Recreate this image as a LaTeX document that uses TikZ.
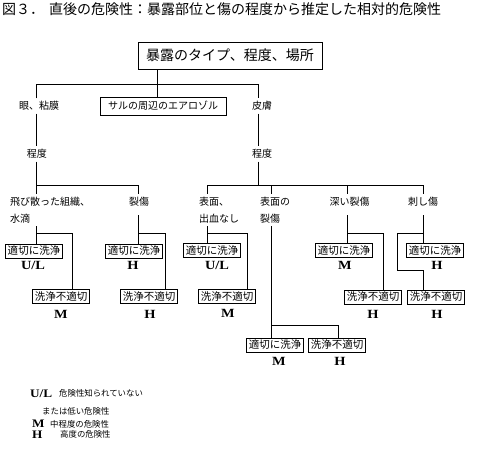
\documentclass[tikz,border=0pt]{standalone}
\usepackage{fontspec}
\newfontfamily\jp{Noto Sans CJK JP}
\newfontfamily\bser[FakeStretch=1.15]{Liberation Serif}
\begin{document}
\begin{tikzpicture}[x=1pt,y=-1pt,
  ln/.style={line width=0.9pt},
  ttl/.style={font=\jp\fontsize{14}{16}\selectfont, anchor=base west, inner sep=0pt},
  topbox/.style={draw, ln, font=\jp\fontsize{14}{16}\selectfont, minimum width=184pt, minimum height=27pt, inner sep=0pt},
  aerobox/.style={draw, ln, font=\jp\fontsize{10}{12}\selectfont, minimum width=126pt, minimum height=18pt, inner sep=0pt},
  txt/.style={font=\jp\fontsize{10}{17}\selectfont, inner xsep=0pt, inner ysep=3pt, text height=8.3pt, text depth=0.7pt},
  txtlow/.style={txt, anchor=base, text depth=7.2pt},
  txttwo/.style={font=\jp\fontsize{10}{17}\selectfont, align=left, anchor=north west, inner xsep=0pt, inner ysep=3pt},
  bx/.style={draw, ln, font=\jp\fontsize{10.5}{12}\selectfont, minimum width=57pt, minimum height=14pt, inner sep=0pt},
  rt/.style={font=\bser\bfseries\fontsize{12.5}{14}\selectfont, inner sep=0pt},
  lg/.style={font=\jp\fontsize{8.4}{10}\selectfont, anchor=base west, inner sep=0pt, text height=6.5pt, text depth=0.5pt},
  lgrt/.style={font=\bser\bfseries\fontsize{11.5}{13}\selectfont, anchor=base west, inner sep=0pt, text height=7.6pt, text depth=0pt}
]
\useasboundingbox (0,0) rectangle (492,449);
\fill[white] (0,0) rectangle (492,449);

% title
\node[ttl] (title) at (2,14.5) {図３．\hspace{5pt}直後の危険性：暴露部位と傷の程度から推定した相対的危険性};

% level 1 and 2
\node[topbox] (top) at (230,55.5) {暴露のタイプ、程度、場所};
\node[txt] (eye) at (39,106) {眼、粘膜};
\node[aerobox] (aero) at (163,106) {サルの周辺のエアロゾル};
\node[txt] (skin) at (262,106) {皮膚};
\node[txt] (degL) at (37,154) {程度};
\node[txt] (degR) at (262,154) {程度};

% level 3
\node[txttwo] (spray) at (10,193.5) {飛び散った組織、\\水滴};
\node[txtlow] (tear) at (139,205) {裂傷};
\node[txttwo] (surf1) at (199,193.5) {表面、\\出血なし};
\node[txttwo] (surf2) at (260,193.5) {表面の\\裂傷};
\node[txtlow] (deep) at (349.5,205) {深い裂傷};
\node[txtlow] (stab) at (423,205) {刺し傷};

% boxes
\node[bx] (ok1) at (34,251) {適切に洗浄};
\node[bx] (ng1) at (61,296.5) {洗浄不適切};
\node[bx] (ok2) at (134,251) {適切に洗浄};
\node[bx] (ng2) at (149,296.5) {洗浄不適切};
\node[bx] (ok3) at (212,250.5) {適切に洗浄};
\node[bx] (ng3) at (227,296.5) {洗浄不適切};
\node[bx] (ok4) at (275,345) {適切に洗浄};
\node[bx] (ng4) at (337,345) {洗浄不適切};
\node[bx] (ok5) at (344,250.5) {適切に洗浄};
\node[bx] (ng5) at (373,297) {洗浄不適切};
\node[bx] (ok6) at (435,250.5) {適切に洗浄};
\node[bx] (ng6) at (436,297) {洗浄不適切};

% ratings
\node[rt] (r1) at (33,265) {U/L};
\node[rt] (r2) at (61,314) {M};
\node[rt] (r3) at (133,265) {H};
\node[rt] (r4) at (150,314) {H};
\node[rt] (r5) at (217,265) {U/L};
\node[rt] (r6) at (228,313.5) {M};
\node[rt] (r7) at (279,361) {M};
\node[rt] (r8) at (340,361) {H};
\node[rt] (r9) at (345,265.5) {M};
\node[rt] (r10) at (373,314) {H};
\node[rt] (r11) at (437,265.5) {H};
\node[rt] (r12) at (437,314) {H};

% junction coordinates
\coordinate (hL) at (36,84);
\coordinate (hM) at (157,84);
\coordinate (hR) at (258,84);
\coordinate (jL1) at (36,185);
\coordinate (jL2) at (138,185);
\coordinate (jR0) at (258,185);
\coordinate (jR1) at (207.5,185);
\coordinate (jR2) at (271,185);
\coordinate (jR3) at (347,185);
\coordinate (jR4) at (423,185);
\coordinate (a1) at (36,233);   \coordinate (a2) at (72,233);
\coordinate (b1) at (138,233);  \coordinate (b2) at (165,233);
\coordinate (c1) at (207.5,233);\coordinate (c2) at (247,233);
\coordinate (d1) at (271,325);  \coordinate (d2) at (338,325);
\coordinate (e1) at (347,233);  \coordinate (e2) at (383,233);
\coordinate (f1) at (423,233);  \coordinate (f2) at (397,233);
\coordinate (f3) at (397,270);  \coordinate (f4) at (423,270);

% connectors
\draw[ln] (top.south -| hM) -- (aero.north -| hM);
\draw[ln] (eye.north -| hL) -- (hL) -- (hR) -- (skin.north -| hR);
\draw[ln] (eye.south -| hL) -- (degL.north -| hL);
\draw[ln] (skin.south -| hR) -- (degR.north -| hR);
\draw[ln] (degL.south -| hL) -- (jL1) -- (jL2) -- (tear.north -| jL2);
\draw[ln] (jL1) -- (spray.north -| jL1);
\draw[ln] (degR.south -| hR) -- (jR0);
\draw[ln] (surf1.north -| jR1) -- (jR1) -- (jR4) -- (stab.north -| jR4);
\draw[ln] (jR2) -- (surf2.north -| jR2);
\draw[ln] (jR3) -- (deep.north -| jR3);

\draw[ln] (spray.south -| a1) -- (ok1.north -| a1);
\draw[ln] (a1) -- (a2) -- (ng1.north -| a2);
\draw[ln] (tear.south -| b1) -- (ok2.north -| b1);
\draw[ln] (b1) -- (b2) -- (ng2.north -| b2);
\draw[ln] (surf1.south -| c1) -- (ok3.north -| c1);
\draw[ln] (c1) -- (c2) -- (ng3.north -| c2);
\draw[ln] (surf2.south -| d1) -- (ok4.north -| d1);
\draw[ln] (d1) -- (d2) -- (ng4.north -| d2);
\draw[ln] (deep.south -| e1) -- (ok5.north -| e1);
\draw[ln] (e1) -- (e2) -- (ng5.north -| e2);
\draw[ln] (stab.south -| f1) -- (ok6.north -| f1);
\draw[ln] (f1) -- (f2) -- (f3) -- (f4) -- (ng6.north -| f4);

% legend
\node[lgrt] (lgUL) at (30,397) {U/L};
\node[lg] (lg1) at (59,396.3) {危険性知られていない};
\node[lg] (lg2) at (42,414.3) {または低い危険性};
\node[lgrt] (lgM) at (32,427) {M};
\node[lg] (lg3) at (50,427) {中程度の危険性};
\node[lgrt] (lgH) at (32,438) {H};
\node[lg] (lg4) at (60,437.5) {高度の危険性};
\end{tikzpicture}
\end{document}
